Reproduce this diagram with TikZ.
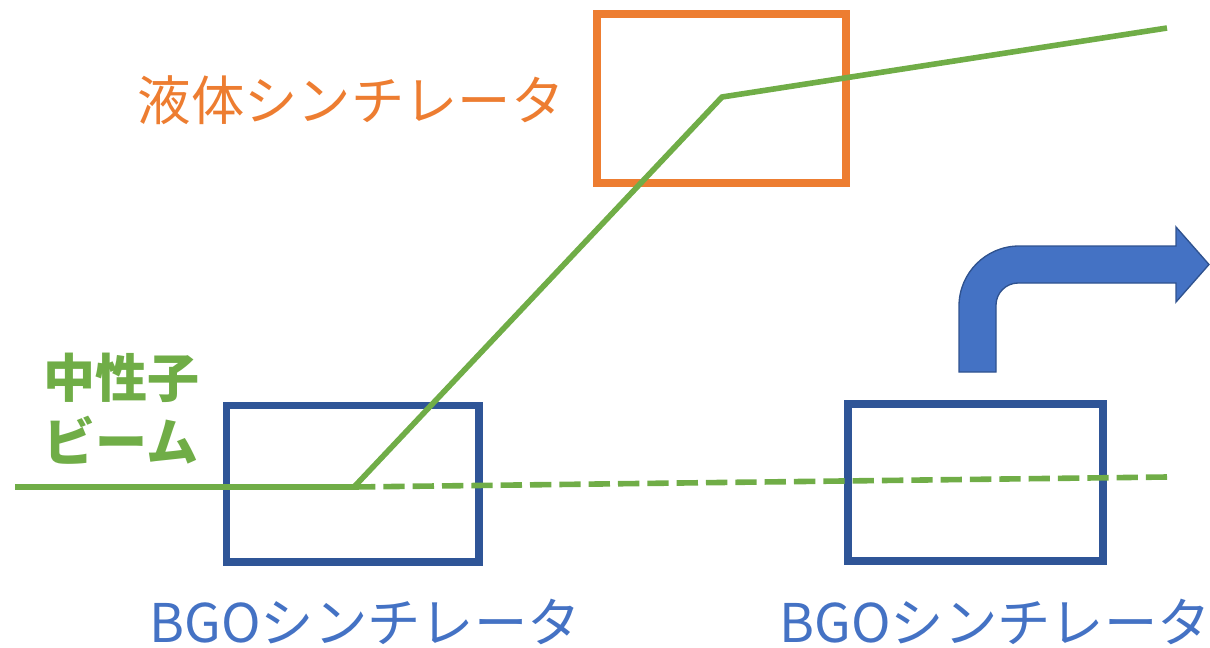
\documentclass[tikz,border=0pt]{standalone}
\usepackage{fontspec}
\setmainfont{Noto Sans CJK JP}
\usetikzlibrary{fit}
\definecolor{orng}{HTML}{ED7D31}
\definecolor{bdark}{HTML}{2F5597}
\definecolor{btext}{HTML}{4472C4}
\definecolor{bline}{HTML}{2F528F}
\definecolor{grn}{HTML}{70AD47}
\tikzset{
  detbox/.style={draw, inner sep=0pt, line width=5.5pt},
  beam/.style={grn, line width=4.2pt},
  lbl/.style={font=\fontsize{40}{44}\selectfont, inner sep=0pt},
  blbl/.style={font=\fontsize{39}{44}\selectfont\bfseries, inner sep=0pt},
}
\begin{document}
\begin{tikzpicture}[x=0.75pt,y=-0.75pt]
\useasboundingbox (0,0) rectangle (1210,647);
% detectors
\node[detbox, orng, fit={(597,14) (846,183)}] (liq) {};
\node[detbox, bdark, fit={(226.5,405.5) (479,562)}] (bgo1) {};
\node[detbox, bdark, fit={(848,404) (1103,561)}] (bgo2) {};
% beam path
\coordinate (b0) at (15,487);
\coordinate (v1) at (354,487);
\coordinate (v2) at (722,97);
\coordinate (e1) at (1167,28);
\coordinate (d1) at (1167,477);
\draw[beam, line join=miter] (b0) -- (v1) -- (v2) -- (e1);
\draw[beam, dash pattern=on 16pt off 6pt] (v1) -- (d1);
% labels
\node[lbl, orng] (tliq) at (351,100) {液体シンチレータ};
\node[lbl, btext] (tb1) at (365,622) {BGOシンチレータ};
\node[lbl, btext] (tb2) at (995,622) {BGOシンチレータ};
\node[blbl, grn] (tn1) at (121,378) {中性子};
\node[blbl, grn] (tn2) at (121,440) {ビーム};
% bent arrow
\draw[fill=btext, draw=bline, line width=1pt, line join=miter]
  (959,372) -- (959,306) .. controls (959,273) and (986,246) .. (1019,246)
  -- (1176,246) -- (1176,227) -- (1209,264.5) -- (1176,302) -- (1176,283)
  -- (1018,283) .. controls (1006,283) and (996,293) .. (996,305)
  -- (996,372) -- cycle;
\end{tikzpicture}
\end{document}
